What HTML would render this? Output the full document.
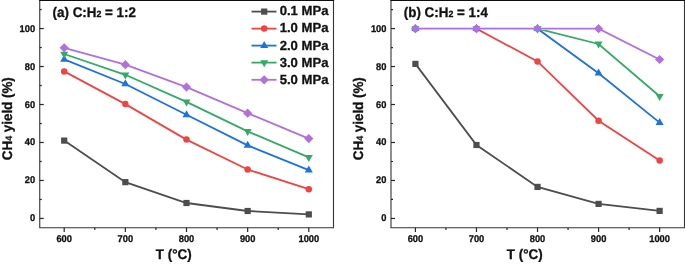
<!DOCTYPE html>
<html><head><meta charset="utf-8"><style>
html,body{margin:0;padding:0;background:#fff;width:685px;height:264px;overflow:hidden}
svg{display:block;will-change:transform}
text{font-family:"Liberation Sans", sans-serif;font-weight:bold;fill:#111;stroke:#111;stroke-width:0.3px;text-rendering:geometricPrecision}
.tl{font-size:9.3px}
.at{font-size:13.4px}
.lg{font-size:13.1px}
.sub{font-size:8.8px}
</style></head><body>
<svg width="685" height="264" viewBox="0 0 685 264">
<path d="M64.20,140.60 L125.35,182.15 L186.50,203.00 L247.65,211.00 L308.80,214.40" fill="none" stroke="#4d4d4d" stroke-width="1.8"/>
<rect x="61.10" y="137.50" width="6.20" height="6.20" fill="#4d4d4d"/>
<rect x="122.25" y="179.05" width="6.20" height="6.20" fill="#4d4d4d"/>
<rect x="183.40" y="199.90" width="6.20" height="6.20" fill="#4d4d4d"/>
<rect x="244.55" y="207.90" width="6.20" height="6.20" fill="#4d4d4d"/>
<rect x="305.70" y="211.30" width="6.20" height="6.20" fill="#4d4d4d"/>
<path d="M64.20,71.40 L125.35,104.10 L186.50,139.60 L247.65,169.50 L308.80,189.20" fill="none" stroke="#ef4444" stroke-width="1.8"/>
<circle cx="64.20" cy="71.40" r="3.25" fill="#ef4444"/>
<circle cx="125.35" cy="104.10" r="3.25" fill="#ef4444"/>
<circle cx="186.50" cy="139.60" r="3.25" fill="#ef4444"/>
<circle cx="247.65" cy="169.50" r="3.25" fill="#ef4444"/>
<circle cx="308.80" cy="189.20" r="3.25" fill="#ef4444"/>
<path d="M64.20,59.40 L125.35,84.00 L186.50,114.80 L247.65,145.40 L308.80,170.20" fill="none" stroke="#1c72df" stroke-width="1.8"/>
<path d="M64.20,54.73L68.20,61.73L60.20,61.73Z" fill="#1c72df"/>
<path d="M125.35,79.33L129.35,86.33L121.35,86.33Z" fill="#1c72df"/>
<path d="M186.50,110.13L190.50,117.13L182.50,117.13Z" fill="#1c72df"/>
<path d="M247.65,140.73L251.65,147.73L243.65,147.73Z" fill="#1c72df"/>
<path d="M308.80,165.53L312.80,172.53L304.80,172.53Z" fill="#1c72df"/>
<path d="M64.20,54.00 L125.35,74.80 L186.50,101.90 L247.65,131.35 L308.80,157.35" fill="none" stroke="#33aa66" stroke-width="1.8"/>
<path d="M64.20,58.67L68.20,51.67L60.20,51.67Z" fill="#33aa66"/>
<path d="M125.35,79.47L129.35,72.47L121.35,72.47Z" fill="#33aa66"/>
<path d="M186.50,106.57L190.50,99.57L182.50,99.57Z" fill="#33aa66"/>
<path d="M247.65,136.02L251.65,129.02L243.65,129.02Z" fill="#33aa66"/>
<path d="M308.80,162.02L312.80,155.02L304.80,155.02Z" fill="#33aa66"/>
<path d="M64.20,47.80 L125.35,64.70 L186.50,87.10 L247.65,113.20 L308.80,138.60" fill="none" stroke="#b070e0" stroke-width="1.8"/>
<path d="M64.20,43.20L68.80,47.80L64.20,52.40L59.60,47.80Z" fill="#b070e0"/>
<path d="M125.35,60.10L129.95,64.70L125.35,69.30L120.75,64.70Z" fill="#b070e0"/>
<path d="M186.50,82.50L191.10,87.10L186.50,91.70L181.90,87.10Z" fill="#b070e0"/>
<path d="M247.65,108.60L252.25,113.20L247.65,117.80L243.05,113.20Z" fill="#b070e0"/>
<path d="M308.80,134.00L313.40,138.60L308.80,143.20L304.20,138.60Z" fill="#b070e0"/>
<path d="M39.75,227.7H333.5M39.75,0.5V227.7M333.5,0.5V227.7" fill="none" stroke="#333" stroke-width="1.1" stroke-linecap="square"/>
<path d="M39.75,0.5H333.5" fill="none" stroke="#0d0d0d" stroke-width="1.1" stroke-linecap="square"/>
<line x1="39.74" y1="218.45" x2="43.74" y2="218.45" stroke="#262626" stroke-width="1.2"/>
<text transform="translate(35.14,221.45) scale(1,1.04)" class="tl" text-anchor="end">0</text>
<line x1="39.74" y1="180.47" x2="43.74" y2="180.47" stroke="#262626" stroke-width="1.2"/>
<text transform="translate(35.14,183.47) scale(1,1.04)" class="tl" text-anchor="end">20</text>
<line x1="39.74" y1="142.49" x2="43.74" y2="142.49" stroke="#262626" stroke-width="1.2"/>
<text transform="translate(35.14,145.49) scale(1,1.04)" class="tl" text-anchor="end">40</text>
<line x1="39.74" y1="104.51" x2="43.74" y2="104.51" stroke="#262626" stroke-width="1.2"/>
<text transform="translate(35.14,107.51) scale(1,1.04)" class="tl" text-anchor="end">60</text>
<line x1="39.74" y1="66.53" x2="43.74" y2="66.53" stroke="#262626" stroke-width="1.2"/>
<text transform="translate(35.14,69.53) scale(1,1.04)" class="tl" text-anchor="end">80</text>
<line x1="39.74" y1="28.55" x2="43.74" y2="28.55" stroke="#262626" stroke-width="1.2"/>
<text transform="translate(35.14,31.55) scale(1,1.04)" class="tl" text-anchor="end">100</text>
<line x1="39.74" y1="199.46" x2="41.74" y2="199.46" stroke="#262626" stroke-width="1.2"/>
<line x1="39.74" y1="161.48" x2="41.74" y2="161.48" stroke="#262626" stroke-width="1.2"/>
<line x1="39.74" y1="123.50" x2="41.74" y2="123.50" stroke="#262626" stroke-width="1.2"/>
<line x1="39.74" y1="85.52" x2="41.74" y2="85.52" stroke="#262626" stroke-width="1.2"/>
<line x1="39.74" y1="47.54" x2="41.74" y2="47.54" stroke="#262626" stroke-width="1.2"/>
<line x1="39.74" y1="9.56" x2="41.74" y2="9.56" stroke="#262626" stroke-width="1.2"/>
<line x1="64.20" y1="227.70" x2="64.20" y2="232.00" stroke="#262626" stroke-width="1.2"/>
<text transform="translate(64.20,241.95) scale(1,1.04)" class="tl" text-anchor="middle">600</text>
<line x1="125.35" y1="227.70" x2="125.35" y2="232.00" stroke="#262626" stroke-width="1.2"/>
<text transform="translate(125.35,241.95) scale(1,1.04)" class="tl" text-anchor="middle">700</text>
<line x1="186.50" y1="227.70" x2="186.50" y2="232.00" stroke="#262626" stroke-width="1.2"/>
<text transform="translate(186.50,241.95) scale(1,1.04)" class="tl" text-anchor="middle">800</text>
<line x1="247.65" y1="227.70" x2="247.65" y2="232.00" stroke="#262626" stroke-width="1.2"/>
<text transform="translate(247.65,241.95) scale(1,1.04)" class="tl" text-anchor="middle">900</text>
<line x1="308.80" y1="227.70" x2="308.80" y2="232.00" stroke="#262626" stroke-width="1.2"/>
<text transform="translate(308.80,241.95) scale(1,1.04)" class="tl" text-anchor="middle">1000</text>
<line x1="94.78" y1="227.70" x2="94.78" y2="229.90" stroke="#262626" stroke-width="1.2"/>
<line x1="155.93" y1="227.70" x2="155.93" y2="229.90" stroke="#262626" stroke-width="1.2"/>
<line x1="217.08" y1="227.70" x2="217.08" y2="229.90" stroke="#262626" stroke-width="1.2"/>
<line x1="278.23" y1="227.70" x2="278.23" y2="229.90" stroke="#262626" stroke-width="1.2"/>
<text transform="translate(173.70,258.90) scale(1,1.04)" class="at" text-anchor="middle">T (°C)</text>
<text transform="translate(11.64,160.20) rotate(-90) scale(1,1.04)" class="at">CH<tspan class="sub">4</tspan> yield (%)</text>
<text transform="translate(52.54,17.00) scale(1,1.04)" class="at">(a) C:H<tspan class="sub">2</tspan> = 1:2</text>
<line x1="251.5" y1="11.6" x2="276.5" y2="11.6" stroke="#4d4d4d" stroke-width="1.8"/>
<rect x="261.10" y="8.50" width="6.20" height="6.20" fill="#4d4d4d"/>
<text transform="translate(279.70,15.30) scale(1,1.0)" class="lg">0.1 MPa</text>
<line x1="251.5" y1="28.6" x2="276.5" y2="28.6" stroke="#ef4444" stroke-width="1.8"/>
<circle cx="264.20" cy="28.60" r="3.25" fill="#ef4444"/>
<text transform="translate(279.70,32.44) scale(1,1.0)" class="lg">1.0 MPa</text>
<line x1="251.5" y1="45.6" x2="276.5" y2="45.6" stroke="#1c72df" stroke-width="1.8"/>
<path d="M264.20,40.93L268.20,47.93L260.20,47.93Z" fill="#1c72df"/>
<text transform="translate(279.70,49.58) scale(1,1.0)" class="lg">2.0 MPa</text>
<line x1="251.5" y1="62.6" x2="276.5" y2="62.6" stroke="#33aa66" stroke-width="1.8"/>
<path d="M264.20,67.27L268.20,60.27L260.20,60.27Z" fill="#33aa66"/>
<text transform="translate(279.70,66.72) scale(1,1.0)" class="lg">3.0 MPa</text>
<line x1="251.5" y1="79.8" x2="276.5" y2="79.8" stroke="#b070e0" stroke-width="1.8"/>
<path d="M264.20,75.20L268.80,79.80L264.20,84.40L259.60,79.80Z" fill="#b070e0"/>
<text transform="translate(279.70,83.86) scale(1,1.0)" class="lg">5.0 MPa</text>
<path d="M415.42,63.90 L476.47,145.00 L537.52,186.90 L598.57,203.90 L659.62,210.90" fill="none" stroke="#4d4d4d" stroke-width="1.8"/>
<rect x="412.32" y="60.80" width="6.20" height="6.20" fill="#4d4d4d"/>
<rect x="473.37" y="141.90" width="6.20" height="6.20" fill="#4d4d4d"/>
<rect x="534.42" y="183.80" width="6.20" height="6.20" fill="#4d4d4d"/>
<rect x="595.47" y="200.80" width="6.20" height="6.20" fill="#4d4d4d"/>
<rect x="656.52" y="207.80" width="6.20" height="6.20" fill="#4d4d4d"/>
<path d="M415.42,28.70H476.47" stroke="#fff" stroke-width="2.7"/>
<path d="M415.42,28.70 L476.47,28.70 L537.52,61.40 L598.57,120.70 L659.62,160.50" fill="none" stroke="#ef4444" stroke-width="1.8"/>
<circle cx="415.42" cy="28.70" r="3.25" fill="#ef4444"/>
<circle cx="476.47" cy="28.70" r="3.25" fill="#ef4444"/>
<circle cx="537.52" cy="61.40" r="3.25" fill="#ef4444"/>
<circle cx="598.57" cy="120.70" r="3.25" fill="#ef4444"/>
<circle cx="659.62" cy="160.50" r="3.25" fill="#ef4444"/>
<path d="M415.42,28.70H537.52" stroke="#fff" stroke-width="2.7"/>
<path d="M415.42,28.70 L476.47,28.70 L537.52,28.70 L598.57,73.25 L659.62,122.60" fill="none" stroke="#1c72df" stroke-width="1.8"/>
<path d="M415.42,24.03L419.42,31.03L411.42,31.03Z" fill="#1c72df"/>
<path d="M476.47,24.03L480.47,31.03L472.47,31.03Z" fill="#1c72df"/>
<path d="M537.52,24.03L541.52,31.03L533.52,31.03Z" fill="#1c72df"/>
<path d="M598.57,68.58L602.57,75.58L594.57,75.58Z" fill="#1c72df"/>
<path d="M659.62,117.93L663.62,124.93L655.62,124.93Z" fill="#1c72df"/>
<path d="M415.42,28.70H537.52" stroke="#fff" stroke-width="2.7"/>
<path d="M415.42,28.70 L476.47,28.70 L537.52,28.70 L598.57,43.95 L659.62,96.30" fill="none" stroke="#33aa66" stroke-width="1.8"/>
<path d="M415.42,33.37L419.42,26.37L411.42,26.37Z" fill="#33aa66"/>
<path d="M476.47,33.37L480.47,26.37L472.47,26.37Z" fill="#33aa66"/>
<path d="M537.52,33.37L541.52,26.37L533.52,26.37Z" fill="#33aa66"/>
<path d="M598.57,48.62L602.57,41.62L594.57,41.62Z" fill="#33aa66"/>
<path d="M659.62,100.97L663.62,93.97L655.62,93.97Z" fill="#33aa66"/>
<path d="M415.42,28.70H598.57" stroke="#fff" stroke-width="2.7"/>
<path d="M415.42,28.70 L476.47,28.70 L537.52,28.70 L598.57,28.70 L659.62,59.50" fill="none" stroke="#b070e0" stroke-width="1.8"/>
<path d="M415.42,24.10L420.02,28.70L415.42,33.30L410.82,28.70Z" fill="#b070e0"/>
<path d="M476.47,24.10L481.07,28.70L476.47,33.30L471.87,28.70Z" fill="#b070e0"/>
<path d="M537.52,24.10L542.12,28.70L537.52,33.30L532.92,28.70Z" fill="#b070e0"/>
<path d="M598.57,24.10L603.17,28.70L598.57,33.30L593.97,28.70Z" fill="#b070e0"/>
<path d="M659.62,54.90L664.22,59.50L659.62,64.10L655.02,59.50Z" fill="#b070e0"/>
<path d="M391.0,227.7H684.5M391.0,0.5V227.7M684.5,0.5V227.7" fill="none" stroke="#333" stroke-width="1.1" stroke-linecap="square"/>
<path d="M391.0,0.5H684.5" fill="none" stroke="#0d0d0d" stroke-width="1.1" stroke-linecap="square"/>
<line x1="391.00" y1="218.45" x2="395.00" y2="218.45" stroke="#262626" stroke-width="1.2"/>
<text transform="translate(386.40,221.45) scale(1,1.04)" class="tl" text-anchor="end">0</text>
<line x1="391.00" y1="180.47" x2="395.00" y2="180.47" stroke="#262626" stroke-width="1.2"/>
<text transform="translate(386.40,183.47) scale(1,1.04)" class="tl" text-anchor="end">20</text>
<line x1="391.00" y1="142.49" x2="395.00" y2="142.49" stroke="#262626" stroke-width="1.2"/>
<text transform="translate(386.40,145.49) scale(1,1.04)" class="tl" text-anchor="end">40</text>
<line x1="391.00" y1="104.51" x2="395.00" y2="104.51" stroke="#262626" stroke-width="1.2"/>
<text transform="translate(386.40,107.51) scale(1,1.04)" class="tl" text-anchor="end">60</text>
<line x1="391.00" y1="66.53" x2="395.00" y2="66.53" stroke="#262626" stroke-width="1.2"/>
<text transform="translate(386.40,69.53) scale(1,1.04)" class="tl" text-anchor="end">80</text>
<line x1="391.00" y1="28.55" x2="395.00" y2="28.55" stroke="#262626" stroke-width="1.2"/>
<text transform="translate(386.40,31.55) scale(1,1.04)" class="tl" text-anchor="end">100</text>
<line x1="391.00" y1="199.46" x2="393.00" y2="199.46" stroke="#262626" stroke-width="1.2"/>
<line x1="391.00" y1="161.48" x2="393.00" y2="161.48" stroke="#262626" stroke-width="1.2"/>
<line x1="391.00" y1="123.50" x2="393.00" y2="123.50" stroke="#262626" stroke-width="1.2"/>
<line x1="391.00" y1="85.52" x2="393.00" y2="85.52" stroke="#262626" stroke-width="1.2"/>
<line x1="391.00" y1="47.54" x2="393.00" y2="47.54" stroke="#262626" stroke-width="1.2"/>
<line x1="391.00" y1="9.56" x2="393.00" y2="9.56" stroke="#262626" stroke-width="1.2"/>
<line x1="415.42" y1="227.70" x2="415.42" y2="232.00" stroke="#262626" stroke-width="1.2"/>
<text transform="translate(415.42,241.95) scale(1,1.04)" class="tl" text-anchor="middle">600</text>
<line x1="476.47" y1="227.70" x2="476.47" y2="232.00" stroke="#262626" stroke-width="1.2"/>
<text transform="translate(476.47,241.95) scale(1,1.04)" class="tl" text-anchor="middle">700</text>
<line x1="537.52" y1="227.70" x2="537.52" y2="232.00" stroke="#262626" stroke-width="1.2"/>
<text transform="translate(537.52,241.95) scale(1,1.04)" class="tl" text-anchor="middle">800</text>
<line x1="598.57" y1="227.70" x2="598.57" y2="232.00" stroke="#262626" stroke-width="1.2"/>
<text transform="translate(598.57,241.95) scale(1,1.04)" class="tl" text-anchor="middle">900</text>
<line x1="659.62" y1="227.70" x2="659.62" y2="232.00" stroke="#262626" stroke-width="1.2"/>
<text transform="translate(659.62,241.95) scale(1,1.04)" class="tl" text-anchor="middle">1000</text>
<line x1="445.94" y1="227.70" x2="445.94" y2="229.90" stroke="#262626" stroke-width="1.2"/>
<line x1="507.00" y1="227.70" x2="507.00" y2="229.90" stroke="#262626" stroke-width="1.2"/>
<line x1="568.05" y1="227.70" x2="568.05" y2="229.90" stroke="#262626" stroke-width="1.2"/>
<line x1="629.10" y1="227.70" x2="629.10" y2="229.90" stroke="#262626" stroke-width="1.2"/>
<text transform="translate(524.72,258.90) scale(1,1.04)" class="at" text-anchor="middle">T (°C)</text>
<text transform="translate(362.90,160.20) rotate(-90) scale(1,1.04)" class="at">CH<tspan class="sub">4</tspan> yield (%)</text>
<text transform="translate(403.80,17.00) scale(1,1.04)" class="at">(b) C:H<tspan class="sub">2</tspan> = 1:4</text>
</svg>
</body></html>
